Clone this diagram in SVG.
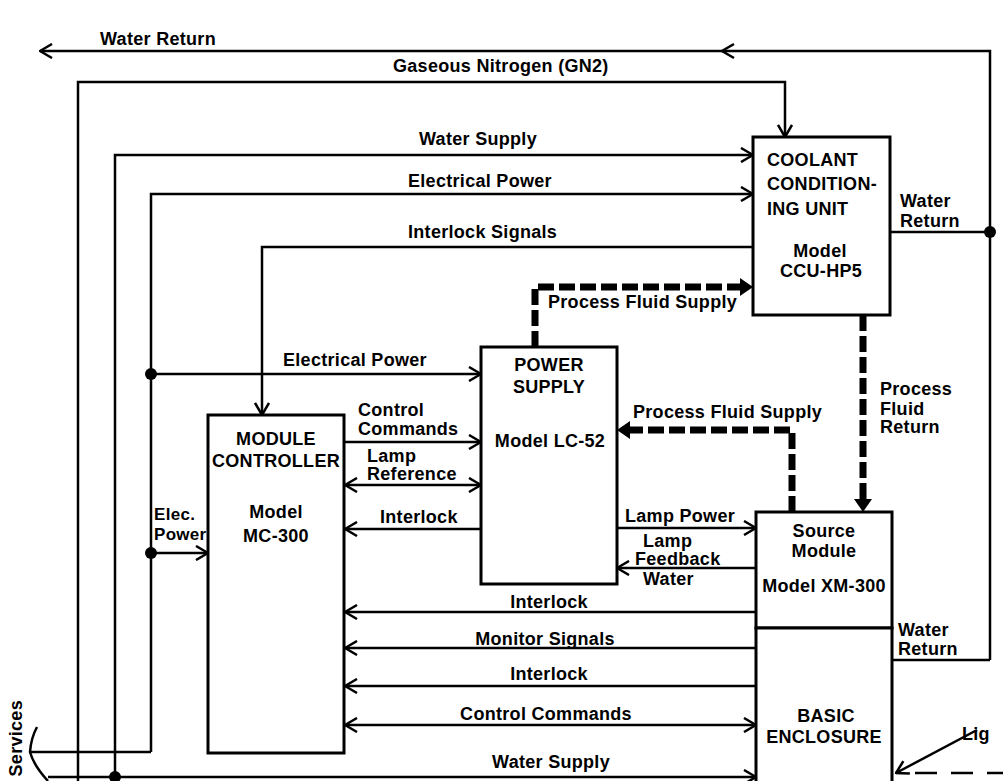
<svg xmlns="http://www.w3.org/2000/svg" width="1003" height="781" viewBox="0 0 1003 781">
<style>
text{font-family:"Liberation Sans",Arial,sans-serif;font-weight:bold;font-size:18px;fill:#000;letter-spacing:0.3px}
.c{text-anchor:middle}
.box{fill:#fff;stroke:#000;stroke-width:3}
.ln{fill:none;stroke:#000;stroke-width:2.5}
.dash{fill:none;stroke:#000;stroke-width:7;stroke-dasharray:16 5}
</style>
<defs>
<marker id="a" markerUnits="userSpaceOnUse" viewBox="0 0 14 16" refX="13" refY="8" markerWidth="14" markerHeight="16" orient="auto-start-reverse">
<path d="M1,1 L13,8 L1,15" fill="none" stroke="#000" stroke-width="2.5"/>
</marker>
<marker id="t" markerUnits="userSpaceOnUse" viewBox="0 0 13 18" refX="0" refY="9" markerWidth="13" markerHeight="18" orient="auto">
<path d="M0,0 L13,9 L0,18 z" fill="#000"/>
</marker>
</defs>
<rect width="1003" height="781" fill="#fff"/>
<g id="connectors">
<path class="ln" d="M990,660 L990,51 L40,51" marker-end="url(#a)"/>
<path class="ln" d="M734,44 L722,51 L734,58"/>
<path class="ln" d="M892,660 L990,660"/>
<path class="ln" d="M890,232 L990,232"/>
<circle cx="990" cy="232" r="6"/>
<path class="ln" d="M78,781 L78,82 L785,82 L785,137" marker-end="url(#a)"/>
<path class="ln" d="M115,777 L115,155 L753,155" marker-end="url(#a)"/>
<path class="ln" d="M151,752 L151,194 L753,194" marker-end="url(#a)"/>
<path class="ln" d="M753,247 L262,247 L262,415" marker-end="url(#a)"/>
<path class="ln" d="M151,374 L481,374" marker-end="url(#a)"/>
<circle cx="151" cy="374" r="6"/>
<path class="ln" d="M345,442 L481,442" marker-end="url(#a)"/>
<path class="ln" d="M345,485 L481,485" marker-start="url(#a)" marker-end="url(#a)"/>
<path class="ln" d="M481,529 L345,529" marker-end="url(#a)"/>
<path class="ln" d="M151,553 L208,553" marker-end="url(#a)"/>
<circle cx="151" cy="553" r="6"/>
<path class="ln" d="M617,528 L756,528" marker-end="url(#a)"/>
<path class="ln" d="M756,568 L617,568" marker-end="url(#a)"/>
<path class="ln" d="M756,612 L345,612" marker-end="url(#a)"/>
<path class="ln" d="M756,648 L345,648" marker-end="url(#a)"/>
<path class="ln" d="M756,686 L345,686" marker-end="url(#a)"/>
<path class="ln" d="M345,725 L756,725" marker-start="url(#a)" marker-end="url(#a)"/>
<path class="ln" d="M48,777 L756,777" marker-end="url(#a)"/>
<circle cx="115" cy="777" r="6"/>
<path class="ln" d="M30,752 L151,752"/>
<path class="ln" d="M37,727 Q31,738 30,752 Q34,766 48,781"/>
<path class="ln" d="M977,730 L896,773" marker-end="url(#a)"/>
<path class="ln" d="M915,773 L1003,773" stroke-dasharray="22 14"/>
<path class="dash" d="M535,347 L535,287 L740,287" marker-end="url(#t)"/>
<path class="dash" d="M792,512 L792,430 L630,430" marker-end="url(#t)"/>
<path class="dash" d="M863,315 L863,499" marker-end="url(#t)"/>
</g>
<g id="labels">
<text x="100" y="45">Water Return</text>
<text x="393" y="72">Gaseous Nitrogen (GN2)</text>
<text x="419" y="145">Water Supply</text>
<text x="408" y="187">Electrical Power</text>
<text x="408" y="238">Interlock Signals</text>
<text x="548" y="308">Process Fluid Supply</text>
<text x="283" y="366">Electrical Power</text>
<text x="358" y="416">Control</text>
<text x="358" y="435">Commands</text>
<text x="367" y="462">Lamp</text>
<text x="367" y="480">Reference</text>
<text x="380" y="523">Interlock</text>
<text x="154" y="520" style="font-size:17px">Elec.</text>
<text x="154" y="540" style="font-size:17px">Power</text>
<text x="633" y="418">Process Fluid Supply</text>
<text x="880" y="395">Process</text>
<text x="880" y="415">Fluid</text>
<text x="880" y="433">Return</text>
<text x="900" y="207">Water</text>
<text x="900" y="227">Return</text>
<text x="625" y="522">Lamp Power</text>
<text x="643" y="547">Lamp</text>
<text x="635" y="565">Feedback</text>
<text x="643" y="585">Water</text>
<text class="c" x="549" y="608">Interlock</text>
<text class="c" x="545" y="645">Monitor Signals</text>
<text class="c" x="549" y="680">Interlock</text>
<text class="c" x="546" y="720">Control Commands</text>
<text class="c" x="551" y="768">Water Supply</text>
<text x="898" y="636">Water</text>
<text x="898" y="655">Return</text>
<text x="962" y="740">Lig</text>
<text transform="translate(22,700) rotate(-90)" text-anchor="end">Facility Services</text>
</g>
<g id="ccu">
<rect class="box" x="753" y="137" width="137" height="178"/>
<text x="767" y="166">COOLANT</text>
<text x="767" y="190">CONDITION-</text>
<text x="767" y="215">ING UNIT</text>
<text class="c" x="820" y="257">Model</text>
<text class="c" x="821" y="277">CCU-HP5</text>
</g>
<g id="power-supply">
<rect class="box" x="481" y="347" width="136" height="237"/>
<text class="c" x="549" y="371">POWER</text>
<text class="c" x="549" y="393">SUPPLY</text>
<text class="c" x="550" y="447">Model LC-52</text>
</g>
<g id="module-controller">
<rect class="box" x="208" y="415" width="136" height="338"/>
<text class="c" x="276" y="445">MODULE</text>
<text class="c" x="276" y="467">CONTROLLER</text>
<text class="c" x="276" y="518">Model</text>
<text class="c" x="276" y="542">MC-300</text>
</g>
<g id="source-module">
<rect class="box" x="756" y="512" width="136" height="116"/>
<text class="c" x="824" y="537">Source</text>
<text class="c" x="824" y="557">Module</text>
<text class="c" x="824" y="592">Model XM-300</text>
</g>
<g id="basic-enclosure">
<rect class="box" x="756" y="628" width="136" height="170"/>
<text class="c" x="826" y="722">BASIC</text>
<text class="c" x="824" y="743">ENCLOSURE</text>
</g>
</svg>
